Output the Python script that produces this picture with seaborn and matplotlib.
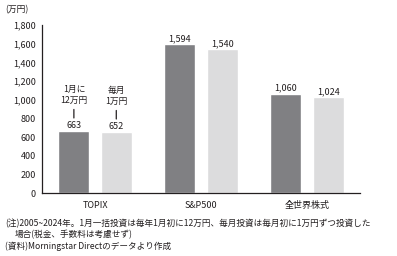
import matplotlib
matplotlib.use("Agg")
import pandas as pd
import matplotlib.pyplot as plt
import seaborn as sns

categories = ["TOPIX", "S&P500", "全世界株式"]
lump_sum = [663, 1594, 1060]
monthly = [652, 1540, 1024]
series_names = ["1月に\n12万円", "毎月\n1万円"]
yticks = list(range(0, 1801, 200))

df = pd.DataFrame({
    "index": categories * 2,
    "value": lump_sum + monthly,
    "plan": [series_names[0]] * 3 + [series_names[1]] * 3,
})

sns.set_style("white")
plt.rcParams["font.family"] = ["Noto Sans CJK JP", "DejaVu Sans"]

fig = plt.figure(figsize=(3.97, 2.56), dpi=100)
ax = fig.add_axes([0.106, 0.246, 0.801, 0.656])

sns.barplot(data=df, x="index", y="value", hue="plan",
            palette=["#808083", "#dcdcdd"], width=0.8, gap=0.27,
            saturation=1, legend=False, ax=ax)

# 値ラベル
for cont in ax.containers:
    ax.bar_label(cont, labels=[f"{b.get_height():,.0f}" for b in cont],
                 padding=1, fontsize=6.5, color="#231f20")

# TOPIXの上に系列名
for cont, name in zip(ax.containers, series_names):
    b = cont[0]
    x = b.get_x() + b.get_width() / 2
    ax.annotate(name, xy=(x, b.get_height()), xytext=(0, 19),
                textcoords="offset points", ha="center", va="bottom",
                fontsize=6.3, linespacing=1.25, color="#231f20",
                arrowprops=dict(arrowstyle="-", lw=0.9, color="#231f20",
                                shrinkA=1, shrinkB=9.5))

ax.set_xlim(-0.5, 2.5)
ax.set_ylim(0, 1800)
ax.set_yticks(yticks)
ax.set_yticklabels([f"{v:,}" for v in yticks])
ax.set_xlabel("")
ax.set_ylabel("")
sns.despine(ax=ax)
for s in ["left", "bottom"]:
    ax.spines[s].set_color("#231f20")
    ax.spines[s].set_linewidth(0.9)
ax.tick_params(axis="y", direction="inout", length=4, width=0.9,
               labelsize=6.5, pad=2.5, colors="#231f20")
ax.tick_params(axis="x", length=0, labelsize=6.5, pad=5.5, colors="#231f20")

fig.text(0.013, 0.961, "(万円)", fontsize=6.3, va="center", color="#231f20")
fig.text(0.013, 0.125, "(注)2005~2024年。1月一括投資は毎年1月初に12万円、毎月投資は毎月初に1万円ずつ投資した",
         fontsize=6.2, va="center", color="#231f20")
fig.text(0.038, 0.082, "場合(税金、手数料は考慮せず)", fontsize=6.2, va="center", color="#231f20")
fig.text(0.013, 0.039, "(資料)Morningstar Directのデータより作成", fontsize=6.2, va="center", color="#231f20")

fig.savefig("out.png", dpi=100)
